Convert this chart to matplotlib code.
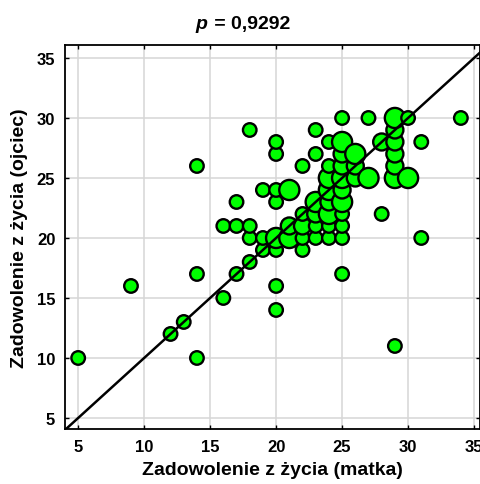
import matplotlib
matplotlib.use("Agg")
import matplotlib.pyplot as plt

# matka (x), ojciec (y), liczba nakładających się obserwacji (n)
matka = [5, 9, 12, 13, 14, 14, 14, 16, 16, 17, 17, 17, 18, 18, 18, 18, 19, 19, 19,
         20, 20, 20, 20, 20, 20, 20, 20, 21, 21, 21, 22, 22, 22, 22, 22,
         23, 23, 23, 23, 23, 23, 24, 24, 24, 24, 24, 24, 24, 24,
         25, 25, 25, 25, 25, 25, 25, 25, 25, 25, 25, 26, 26, 26, 27, 27,
         28, 28, 29, 29, 29, 29, 29, 29, 29, 30, 30, 31, 31, 34]
ojciec = [10, 16, 12, 13, 10, 17, 26, 15, 21, 17, 21, 23, 18, 20, 21, 29, 19, 20, 24,
          14, 16, 19, 20, 23, 24, 27, 28, 20, 21, 24, 19, 20, 21, 22, 26,
          20, 21, 22, 23, 27, 29, 20, 21, 22, 23, 24, 25, 26, 28,
          17, 20, 21, 22, 23, 24, 25, 26, 27, 28, 30, 25, 26, 27, 25, 30,
          22, 28, 11, 25, 26, 27, 28, 29, 30, 25, 30, 20, 28, 30]
liczba = [1, 1, 1, 1, 1, 1, 1, 1, 1, 1, 1, 1, 1, 1, 1, 1, 1, 1, 1,
          1, 1, 1, 3, 1, 1, 1, 1, 3, 2, 3, 1, 1, 2, 1, 1,
          1, 1, 2, 3, 1, 1, 1, 1, 3, 2, 3, 3, 1, 1,
          1, 1, 1, 1, 3, 2, 3, 2, 2, 3, 1, 2, 2, 3, 3, 1,
          1, 2, 1, 3, 2, 2, 2, 2, 3, 3, 1, 1, 1, 1]

ticks = [5, 10, 15, 20, 25, 30, 35]
title_p = "0,9292"

plt.rcParams['font.family'] = ['Liberation Sans', 'DejaVu Sans']

fig = plt.figure(figsize=(4.81, 4.85), dpi=100)
ax = fig.add_axes([0.1351, 0.1134, 0.8628, 0.7917])

sizes = {1: 95, 2: 150, 3: 210}
ax.scatter(matka, ojciec, s=[sizes[n] for n in liczba], facecolor="#00ff00",
           edgecolor="black", linewidth=1.7, zorder=3)

ax.plot([0, 40], [0, 40], color="black", linewidth=1.8, zorder=4)

ax.set_xlim(4.0, 35.45)
ax.set_ylim(4.08, 36.08)
ax.set_xticks(ticks)
ax.set_yticks(ticks)
ax.grid(True, color="#d6d6d6", linewidth=1.1, zorder=0)
ax.set_axisbelow(True)
ax.tick_params(direction="in", length=3, width=1, top=True, right=True,
               labelsize=12, pad=7)
for lab in ax.get_xticklabels() + ax.get_yticklabels():
    lab.set_fontweight("bold")
for sp in ax.spines.values():
    sp.set_linewidth(1.3)

ax.set_xlabel("Zadowolenie z życia (matka)", fontsize=14, fontweight="bold", labelpad=5)
ax.set_ylabel("Zadowolenie z życia (ojciec)", fontsize=14, fontweight="bold", labelpad=6)

fig.text(0.432, 0.949, "p", fontsize=14, fontweight="bold", style="italic",
         ha="right", va="center")
fig.text(0.434, 0.949, " = " + title_p, fontsize=14, fontweight="bold",
         ha="left", va="center")

fig.savefig("out.png", dpi=100)
